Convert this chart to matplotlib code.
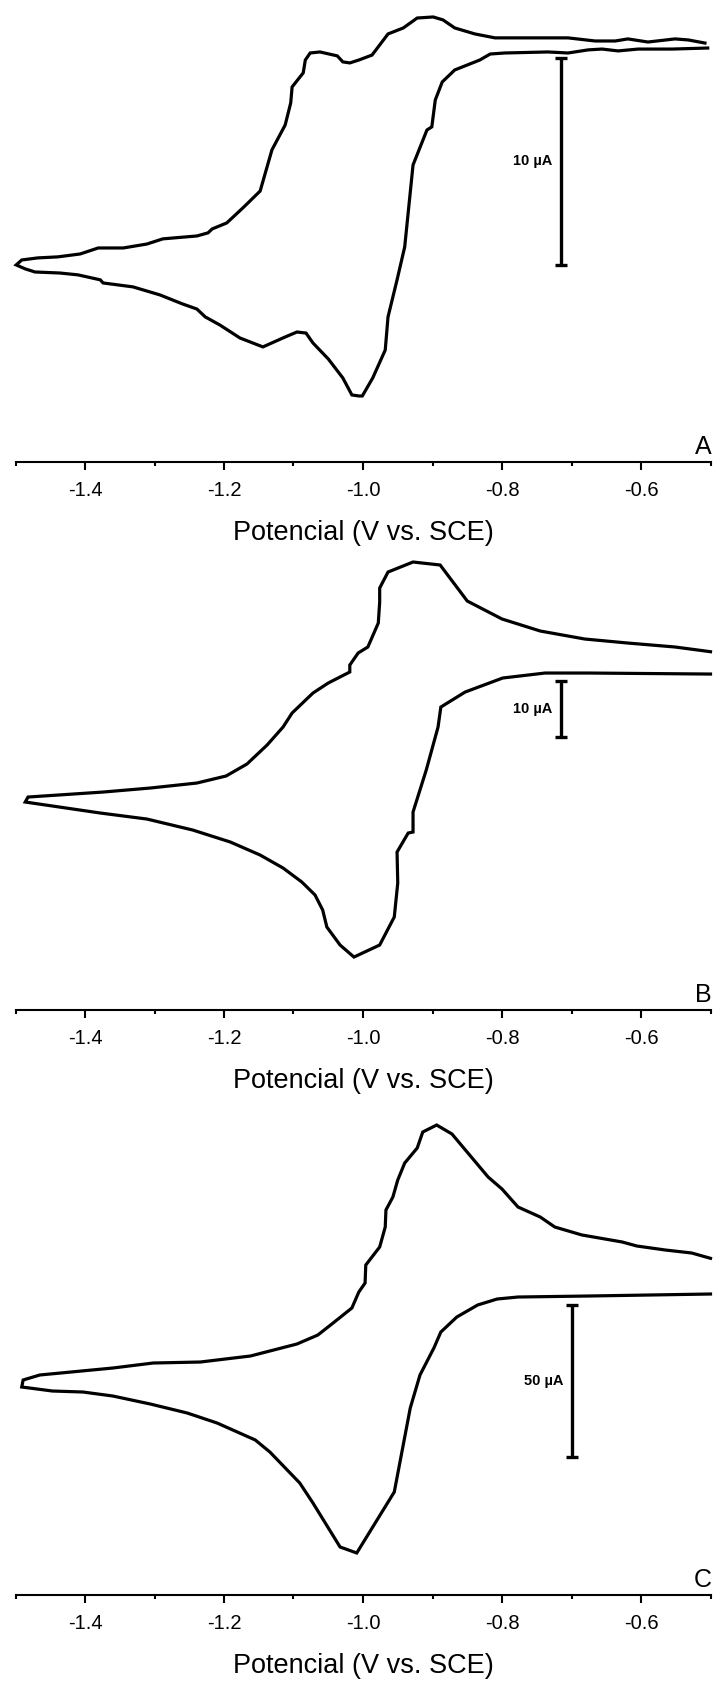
import matplotlib
matplotlib.use("Agg")
import matplotlib.pyplot as plt
from matplotlib.ticker import MultipleLocator

plt.rcParams['font.family'] = ['Liberation Sans', 'DejaVu Sans']

# ---------------- data (potential in V vs SCE, current in uA) ----------------
# Panel A : anodic (upper) branch, read right -> left
A_up_E = [-0.508, -0.532, -0.551, -0.590, -0.619, -0.637, -0.666, -0.705, -0.763, -0.810,
          -0.839, -0.868, -0.885, -0.899, -0.922, -0.942, -0.964, -0.987, -1.006, -1.019,
          -1.029, -1.037, -1.062, -1.076, -1.083, -1.086, -1.102, -1.104, -1.112, -1.131,
          -1.148, -1.173, -1.196, -1.217, -1.223, -1.239, -1.288, -1.311, -1.345, -1.381,
          -1.407, -1.439, -1.468, -1.491, -1.499]
A_up_I = [10.72, 10.87, 10.92, 10.77, 10.92, 10.82, 10.82, 10.97, 10.97, 10.97,
          11.16, 11.45, 11.84, 11.98, 11.93, 11.45, 11.16, 10.14, 9.90, 9.76,
          9.81, 10.10, 10.29, 10.24, 9.90, 9.28, 8.60, 7.83, 6.76, 5.56,
          3.57, 2.75, 2.03, 1.74, 1.55, 1.40, 1.26, 1.01, 0.82, 0.82,
          0.53, 0.39, 0.34, 0.24, 0.00]
# Panel A : cathodic (lower) branch, read left -> right
A_dn_E = [-1.486, -1.472, -1.436, -1.410, -1.378, -1.374, -1.331, -1.292, -1.260, -1.239,
          -1.227, -1.206, -1.177, -1.144, -1.112, -1.095, -1.082, -1.072, -1.050, -1.029,
          -1.016, -1.006, -1.001, -0.986, -0.968, -0.964, -0.951, -0.940, -0.928, -0.908,
          -0.901, -0.896, -0.886, -0.868, -0.832, -0.817, -0.796, -0.734, -0.705, -0.676,
          -0.656, -0.633, -0.604, -0.555, -0.504]
A_dn_I = [-0.19, -0.34, -0.39, -0.48, -0.72, -0.87, -1.06, -1.45, -1.88, -2.13,
          -2.51, -2.90, -3.53, -3.96, -3.48, -3.24, -3.29, -3.77, -4.54, -5.46,
          -6.28, -6.33, -6.33, -5.46, -4.11, -2.51, -0.72, 0.87, 4.83, 6.52,
          6.67, 7.97, 8.84, 9.42, 9.90, 10.19, 10.24, 10.29, 10.24, 10.39,
          10.43, 10.34, 10.43, 10.43, 10.48]

# Panel B
B_up_E = [-0.500, -0.551, -0.619, -0.681, -0.745, -0.800, -0.850, -0.889, -0.928, -0.964,
          -0.976, -0.976, -0.978, -0.993, -1.007, -1.019, -1.019, -1.050, -1.072, -1.102,
          -1.115, -1.138, -1.167, -1.197, -1.239, -1.306, -1.374, -1.482, -1.486]
B_up_I = [26.51, 27.34, 28.04, 28.75, 30.16, 32.28, 35.45, 41.80, 42.33, 40.56,
          37.74, 35.27, 31.57, 27.34, 26.28, 24.16, 22.93, 20.99, 19.22, 15.70,
          13.23, 10.05, 6.70, 4.59, 3.35, 2.47, 1.76, 0.88, 0.00]
B_dn_E = [-1.378, -1.311, -1.245, -1.191, -1.148, -1.115, -1.088, -1.069, -1.058, -1.052,
          -1.033, -1.013, -0.976, -0.955, -0.950, -0.951, -0.935, -0.928, -0.928, -0.909,
          -0.892, -0.888, -0.853, -0.799, -0.738, -0.676, -0.500]
B_dn_I = [-1.94, -3.00, -4.94, -7.05, -9.35, -11.64, -14.11, -16.40, -19.05, -22.05,
          -25.22, -27.34, -25.22, -20.28, -14.29, -8.82, -5.47, -5.29, -1.76, 5.64,
          13.23, 16.75, 19.40, 21.87, 22.75, 22.75, 22.57]

# Panel C
C_up_E = [-0.500, -0.527, -0.565, -0.606, -0.627, -0.685, -0.724, -0.745, -0.777, -0.800,
          -0.820, -0.849, -0.872, -0.894, -0.914, -0.922, -0.940, -0.950, -0.957, -0.967,
          -0.968, -0.976, -0.996, -0.997, -1.006, -1.016, -1.043, -1.065, -1.095, -1.162,
          -1.234, -1.302, -1.360, -1.465, -1.489, -1.491]
C_up_I = [42.43, 44.18, 45.17, 46.49, 47.81, 50.12, 52.75, 56.05, 59.35, 65.28,
          69.24, 77.15, 83.42, 86.38, 84.08, 78.80, 73.85, 68.25, 62.64, 58.36,
          52.75, 46.16, 40.22, 34.29, 31.32, 26.05, 21.10, 17.14, 14.18, 10.22,
          8.24, 7.91, 6.26, 3.96, 2.31, 0.00]
C_dn_E = [-1.447, -1.403, -1.360, -1.306, -1.253, -1.210, -1.155, -1.134, -1.091, -1.072,
          -1.033, -1.009, -0.955, -0.932, -0.918, -0.898, -0.888, -0.865, -0.835, -0.807,
          -0.777, -0.676, -0.500]
C_dn_I = [-1.32, -1.65, -2.97, -5.61, -8.57, -11.87, -17.47, -21.43, -31.65, -38.25,
          -52.75, -54.73, -34.62, -6.92, 3.96, 12.86, 18.13, 23.08, 27.04, 29.01,
          29.67, 30.00, 30.66]

# scale bars: (potential, bottom current, top current, label)
scale_E = [-0.715, -0.715, -0.700]
scale_lo = [0.0, 11.41, -22.98]
scale_hi = [10.0, 21.39, 27.04]
scale_txt = ["10 µA", "10 µA", "50 µA"]
panel_letters = ["A", "B", "C"]
tick_vals = [-1.4, -1.2, -1.0, -0.8, -0.6]
tick_labels = ['-1.4', '-1.2', '-1.0', '-0.8', '-0.6']
xlabel_text = "Potencial (V vs. SCE)"

# ---------------- layout ----------------
W, H = 715, 1682
fig = plt.figure(figsize=(W / 100, H / 100), dpi=100)

panels = [
    (A_up_E + A_dn_E, A_up_I + A_dn_I, 0, 462, (-9.52, 12.80)),
    (B_up_E + B_dn_E, B_up_I + B_dn_I, 545, 1010, (-36.68, 45.33)),
    (C_up_E + C_dn_E, C_up_I + C_dn_I, 1100, 1595, (-68.58, 94.63)),
]

for k, (E, I, top_px, bot_px, ylim) in enumerate(panels):
    ax = fig.add_axes([15.5 / W, 1 - bot_px / H, 695 / W, (bot_px - top_px) / H])
    ax.plot(E, I, color='black', lw=2.3, clip_on=False, solid_joinstyle='miter')
    ax.set_xlim(-1.5, -0.5)
    ax.set_ylim(*ylim)
    for s in ['top', 'left', 'right']:
        ax.spines[s].set_visible(False)
    ax.spines['bottom'].set_linewidth(1.5)
    ax.set_yticks([])
    ax.xaxis.set_minor_locator(MultipleLocator(0.1))
    ax.set_xticks(tick_vals)
    ax.set_xticklabels(tick_labels)
    ax.tick_params(axis='x', which='major', direction='out', length=6, width=1.5,
                   labelsize=14.5, pad=8)
    ax.tick_params(axis='x', which='minor', direction='out', length=3, width=1.5)
    ax.set_xlabel(xlabel_text, fontsize=19.5, labelpad=14)
    ax.patch.set_visible(False)

    # scale bar
    e = scale_E[k]
    lo, hi = scale_lo[k], scale_hi[k]
    ax.errorbar([e], [(lo + hi) / 2], yerr=[[(hi - lo) / 2], [(hi - lo) / 2]],
                fmt='none', ecolor='black', elinewidth=2.4, capsize=4.5, capthick=2.4,
                clip_on=False)
    ax.annotate(scale_txt[k], xy=(e, (lo + hi) / 2), xytext=(-6, 0),
                textcoords='offset points', ha='right', va='center',
                fontsize=10.5, fontweight='bold')

    ax.annotate(panel_letters[k], xy=(1.0, 0.0), xycoords='axes fraction',
                xytext=(1, 2), textcoords='offset points', ha='right', va='bottom',
                fontsize=18)

fig.savefig('out.png', dpi=100)
